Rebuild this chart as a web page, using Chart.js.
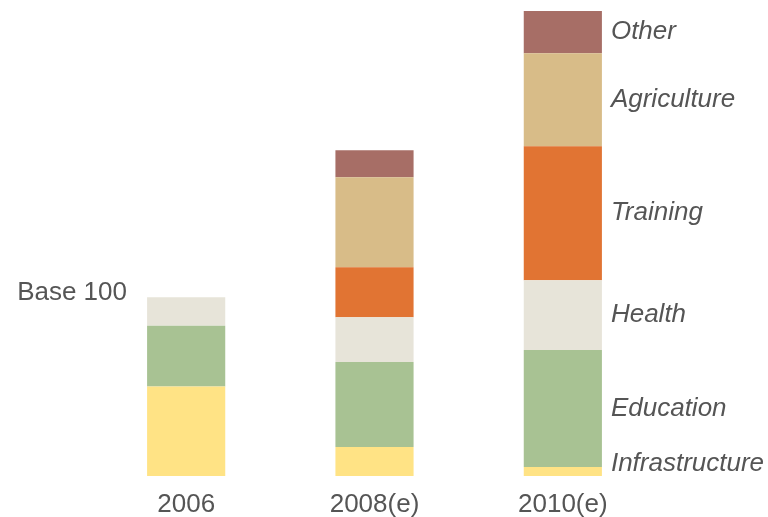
<!DOCTYPE html>
<html>
<head>
<meta charset="utf-8">
<script src="https://cdn.jsdelivr.net/npm/chart.js@4/dist/chart.umd.min.js"></script>
<style>
  html, body { margin: 0; padding: 0; background: #fff; }
  #wrap { width: 768px; height: 517px; }
</style>
</head>
<body>
<div id="wrap"><canvas id="chart" width="768" height="517"></canvas></div>
<script>
'use strict';

// Categories (x axis)
const years = ['2006', '2008(e)', '2010(e)'];

// Series, bottom to top (index base 2006 = 100)
const sectors        = ['Infrastructure', 'Education', 'Health', 'Training', 'Agriculture', 'Other'];
const infrastructure = [50, 16.2, 5];
const education      = [34, 47.5, 65.4];
const health         = [16, 25.1, 39.1];
const training       = [0, 27.9, 74.9];
const agriculture    = [0, 50.3, 52];
const other          = [0, 15.1, 23.5];

const colors = ['#FFE385', '#A8C293', '#E7E4D9', '#E17433', '#D8BC88', '#A76E66'];
const textColor = '#555555';
const fontFamily = '"Liberation Sans", Arial, sans-serif';

const seriesValues = [infrastructure, education, health, training, agriculture, other];

// Draws the sector names next to the last bar and the "Base 100" marker
const sideLabels = {
  id: 'sideLabels',
  afterDatasetsDraw(chart) {
    const { ctx, scales } = chart;
    const last = years.length - 1;
    const baseY = scales.y.getPixelForValue(0);
    ctx.save();
    ctx.fillStyle = textColor;
    ctx.font = 'italic 26px ' + fontFamily;
    ctx.textAlign = 'left';
    ctx.textBaseline = 'middle';
    chart.data.datasets.forEach((ds, i) => {
      const bar = chart.getDatasetMeta(i).data[last];
      if (!bar) return;
      const mid = Math.min((bar.y + bar.base) / 2, baseY - 12);
      ctx.fillText(ds.label, bar.x + bar.width / 2 + 9, mid);
    });

    ctx.font = '26px ' + fontFamily;
    ctx.textAlign = 'right';
    ctx.fillText('Base 100', 127, scales.y.getPixelForValue(100) - 4);
    ctx.restore();
  }
};

new Chart(document.getElementById('chart').getContext('2d'), {
  type: 'bar',
  data: {
    labels: years,
    datasets: sectors.map((name, i) => ({
      label: name,
      data: seriesValues[i],
      backgroundColor: colors[i],
      borderWidth: 0,
      barPercentage: 0.415,
      categoryPercentage: 1
    }))
  },
  options: {
    responsive: false,
    animation: false,
    layout: { padding: { top: 2, left: 92, right: 111, bottom: -17 } },
    plugins: {
      legend: { display: false },
      tooltip: { enabled: false }
    },
    scales: {
      x: {
        stacked: true,
        grid: { display: false, drawTicks: false },
        border: { display: false },
        ticks: { color: textColor, padding: 16, font: { family: fontFamily, size: 26, lineHeight: 1 } }
      },
      y: {
        stacked: true,
        display: false,
        min: 0,
        max: 265
      }
    }
  },
  plugins: [sideLabels]
});
</script>
</body>
</html>
